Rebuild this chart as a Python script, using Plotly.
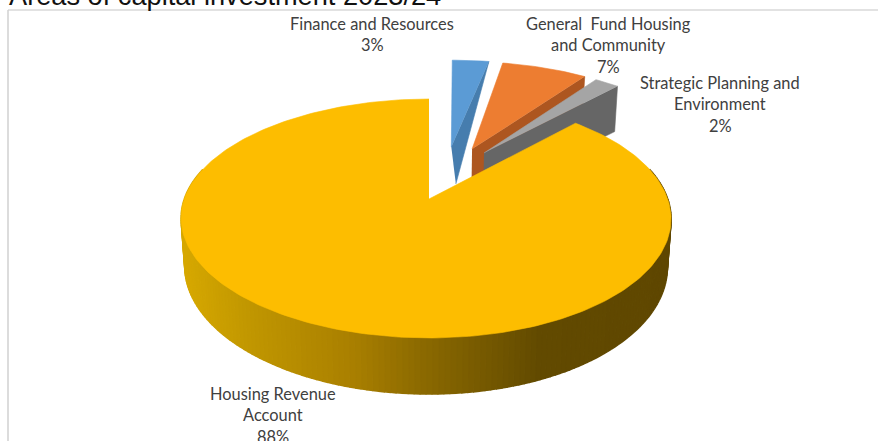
import numpy as np
import plotly.graph_objects as go

TITLE = "Areas of capital investment 2023/24"
categories = ["Finance and Resources", "General Fund Housing and Community",
              "Strategic Planning and Environment", "Housing Revenue Account"]
shares = [3, 7, 2, 88]
label_lines = [["Finance and Resources"],
               ["General  Fund Housing", "and Community"],
               ["Strategic Planning and", "Environment"],
               ["Housing Revenue", "Account"]]

# drawing geometry: a tilted disc seen in perspective, pixel-scaled axes
CX, CY, R, H, TILT, D = 426.0, 199.0, 241.7, 116.3, 0.163, 46.9
BOTTOM_SCALE = 0.985
offsets = [(0.135, 0.482), (0.205, 0.462), (0.2566, 0.423), (0.0, 0.0)]
apex_dx = [-0.022, 0.0, 0.0, 0.0]
rim_depth = [0.0, 1.0, 1.15, 1.0]
apex_depth = [0.85, 1.0, 1.0, 1.0]
x_shift = [0, 0, 0, 3]
top_colors = ["#5B9BD5", "#ED7D31", "#A5A5A5", "#FDBD00"]
face_colors = ["#467DAE", "#AD5620", "#666666", "#7A5C00"]
label_centers = [(372, 23), (608, 23), (720, 82), (273, 393)]
LINE_STEP = 21.5


def project(X, Y, depth=0.0, sh=0.0):
    X, Y = np.asarray(X, float), np.asarray(Y, float)
    w = 1 + TILT * Y
    shift = sh * (1 - np.clip(X, -1, 1) ** 2)
    scale = 1 - (1 - BOTTOM_SCALE) * min(depth, 1)
    x = CX + scale * R * X / w + shift
    y = CY - H * Y / w + depth * D / w
    return x, y


def poly(fig, x, y, color, lw=0.6):
    fig.add_trace(go.Scatter(x=list(x), y=list(y), mode="lines", fill="toself",
                             fillcolor=color, line=dict(color=color, width=lw),
                             hoverinfo="skip", showlegend=False))


fig = go.Figure()
edges = np.cumsum([0] + shares) * 3.6
side_x = [184, 250, 350, 420, 500, 540, 675]
side_r = [214, 192, 170, 140, 112, 98, 95]
side_g = [168, 150, 128, 106, 85, 74, 71]

for i, share in enumerate(shares):
    a0, a1 = np.radians(edges[i]), np.radians(edges[i + 1])
    t = np.linspace(a0, a1, max(12, int(share * 3)))
    ox, oy = offsets[i]
    ax = ox + apex_dx[i]
    sh = x_shift[i]
    rx, ry = ox + np.sin(t), oy + np.cos(t)
    if i < 3:
        # far cut face, seen from the right
        x0, y0 = project([ax, rx[-1]], [oy, ry[-1]], 0, sh)
        x1, y1 = project(rx[-1], ry[-1], rim_depth[i], sh)
        x2, y2 = project(ox, oy, apex_depth[i], sh)
        poly(fig, [x0[0], x0[1], float(x1), float(x2)], [y0[0], y0[1], float(y1), float(y2)], face_colors[i])
    else:
        # curved outer wall as narrow shaded strips, overlapping so no seams show
        for k in range(len(t) - 1):
            if ry[k] > 0.25 and ry[k + 1] > 0.25:
                continue
            xt, yt = project(rx[k:k + 2], ry[k:k + 2], 0, sh)
            xb, yb = project(rx[k:k + 2], ry[k:k + 2], 1, sh)
            m = float(np.mean(xt))
            c = f"rgb({np.interp(m, side_x, side_r):.0f},{np.interp(m, side_x, side_g):.0f},0)"
            poly(fig, [xt[0], xt[1], xb[1], xb[0]], [yt[0], yt[1], yb[1], yb[0]], c, lw=1.6)
    xs, ys = project(np.r_[ax, rx], np.r_[oy, ry], 0, sh)
    poly(fig, xs, ys, top_colors[i])

for (cx, cy), lines, share in zip(label_centers, label_lines, shares):
    for j, line in enumerate(lines + [f"{share}%"]):
        fig.add_annotation(x=cx, y=cy + j * LINE_STEP, text=line, showarrow=False,
                           xanchor="center", yanchor="middle",
                           font=dict(family="Lato", size=16.4, color="#404040"))

fig.add_shape(type="line", x0=8, x1=878, y0=10, y1=10, line=dict(color="#D9D9D9", width=1.5))
fig.add_shape(type="line", x0=8, x1=8, y0=10, y1=441, line=dict(color="#D0D0D0", width=1.5))

fig.add_annotation(x=8, y=12, text=TITLE, showarrow=False, xanchor="left", yanchor="bottom",
                   align="left", borderpad=0,
                   font=dict(family="Liberation Sans, Arial", size=27.2, color="#111111"))

fig.update_xaxes(range=[0, 878], visible=False, fixedrange=True)
fig.update_yaxes(range=[441, 0], visible=False, fixedrange=True)
fig.update_layout(width=878, height=441, margin=dict(l=0, r=0, t=0, b=0),
                  paper_bgcolor="white", plot_bgcolor="white", showlegend=False)
fig.write_html("out.html", config={"displayModeBar": False},
               post_script="document.body.style.margin='0';document.body.style.overflow='hidden';")
